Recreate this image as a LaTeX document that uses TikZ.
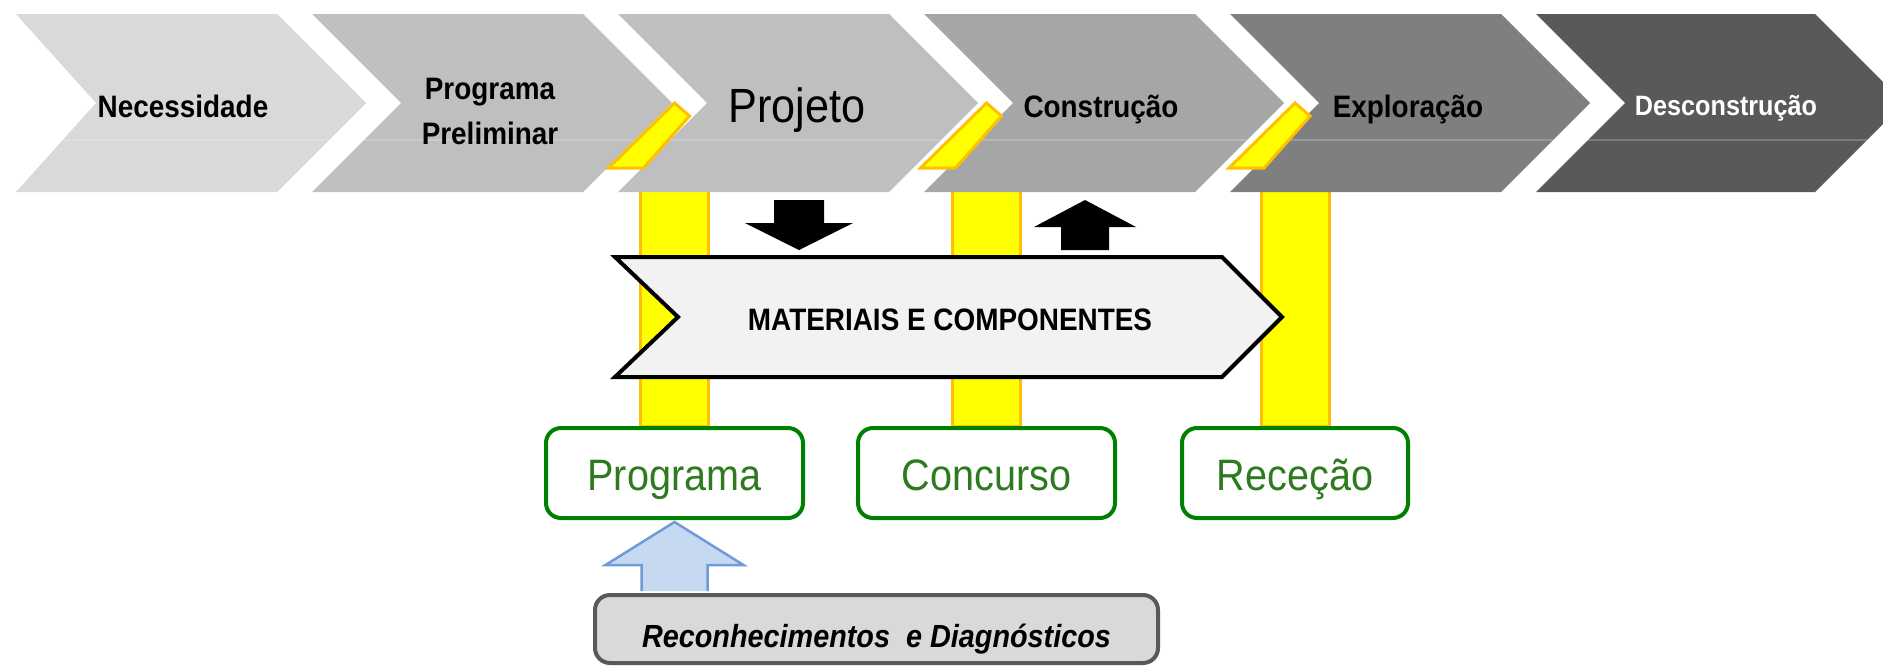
\documentclass[tikz,border=0pt]{standalone}
\usepackage{fontspec}
\setmainfont{Liberation Sans}
\newfontfamily\narrowsans[FakeStretch=0.9]{Liberation Sans}
\usetikzlibrary{calc}
\usetikzlibrary{backgrounds}
\definecolor{stage1}{HTML}{D9D9D9}
\definecolor{stage2}{HTML}{BFBFBF}
\definecolor{stage3}{HTML}{A6A6A6}
\definecolor{stage4}{HTML}{7F7F7F}
\definecolor{stage5}{HTML}{595959}
\definecolor{markfill}{HTML}{FFFF00}
\definecolor{markline}{HTML}{FFC000}
\definecolor{flowfill}{HTML}{F2F2F2}
\definecolor{gateline}{HTML}{008000}
\definecolor{gatetext}{HTML}{2D7A1F}
\definecolor{surveyfill}{HTML}{D9D9D9}
\definecolor{surveyline}{HTML}{595959}
\definecolor{pointerfill}{HTML}{C6D9F1}
\definecolor{pointerline}{HTML}{6F9BD8}
\tikzstyle{phase}=[inner sep=0pt, anchor=base, align=center,
  font=\narrowsans\bfseries\fontsize{31}{45}\selectfont]
\tikzstyle{sheen}=[white, opacity=0.2, line width=1.5pt]
\tikzstyle{milestone}=[fill=markfill, draw=markline, line width=3pt]
\tikzstyle{flow}=[fill=flowfill, draw=black, line width=4pt]
\tikzstyle{flowlabel}=[inner sep=0pt, anchor=base,
  font=\narrowsans\bfseries\fontsize{31}{36}\selectfont]
\tikzstyle{gate}=[draw=gateline, fill=white, line width=4pt, rounded corners=15pt,
  minimum width=257pt, minimum height=90pt, inner sep=0pt,
  text height=34pt, text depth=0pt, text=gatetext,
  font=\narrowsans\fontsize{44}{50}\selectfont]
\tikzstyle{survey}=[draw=surveyline, fill=surveyfill, line width=4pt, rounded corners=15pt,
  minimum width=563pt, minimum height=68pt, inner sep=0pt,
  text height=36pt, text depth=0pt,
  font=\narrowsans\bfseries\itshape\fontsize{32}{38}\selectfont]
\tikzstyle{pointer}=[fill=pointerfill, draw=pointerline, line width=2.5pt, line join=miter]

\begin{document}
\begin{tikzpicture}[x=1pt, y=-1pt]
  \useasboundingbox (0,0) rectangle (1883,667);
  \clip (0,0) rectangle (1883,667);
  % life cycle stages
  \fill[stage1] (16,14) -- (277,14) -- (366,103) -- (277,192) -- (16,192) -- (96,103) -- cycle;
  \draw[sheen] (63,140) -- (329,140);
  \foreach \l/\r/\c in {312/583/stage2, 618/889/stage2, 924/1195/stage3,
                        1230/1501/stage4, 1536/1815/stage5} {
    \fill[\c] (\l,14) -- (\r,14) -- ++(89,89) -- (\r,192) -- (\l,192) -- ++(89,-89) -- cycle;
    \draw[sheen] (\l+52,140) -- (\r+52,140);
  }
  \node[phase] (need) at (183,117) {Necessidade};
  \node[phase, anchor=center] (brief) at (490,111) {Programa\\Preliminar};
  \node[phase, font=\narrowsans\fontsize{48}{56}\selectfont] (design) at (797,122) {Projeto};
  \node[phase] (build) at (1101,117) {Construção};
  \node[phase] (use) at (1408,117) {Exploração};
  \node[phase, text=white, font=\narrowsans\bfseries\fontsize{28}{34}\selectfont]
    (demolish) at (1726,115) {Desconstrução};

  % gates
  \node[gate] (prog) at (674.5,473) {Programa};
  \node[gate] (contest) at (986.5,473) {Concurso};
  \node[gate, minimum width=226pt] (receipt) at (1295,473) {Receção};
  \foreach \g in {prog, contest, receipt}
    \filldraw[milestone] (\g.north |- 0,103) -- ++(15,13) -- ++(-46,52) -- ++(-35,0) -- cycle;
  \begin{scope}[on background layer]
    \foreach \g in {prog, contest, receipt}
      \filldraw[milestone] ($(\g.north)+(-34,0)$) rectangle ($(\g.north)+(34,-240)$);
  \end{scope}

  % materials
  \filldraw[flow] (615,257) -- (1222,257) -- (1282,317) -- (1222,377) -- (615,377) -- (678,317) -- cycle;
  \node[flowlabel] (mat) at (950,330) {MATERIAIS E COMPONENTES};
  \fill (774,200) -- (824,200) -- (824,223) -- (853,223) -- (799,250) -- (745,223) -- (774,223) -- cycle;
  \fill (1085,200) -- (1136,227) -- (1109,227) -- (1109,250) -- (1061,250) -- (1061,227) -- (1034,227) -- cycle;

  % surveys
  \node[survey] (diag) at (876.5,629) {Reconhecimentos\ \ e Diagnósticos};
  \coordinate (tip) at ($(prog.south)+(0,2)$);
  \filldraw[pointer] ($(tip |- diag.north)+(-33,-2)$) -- ($(tip)+(-33,43)$) -- ++(-36,0)
    -- (tip) -- ++(69,43) -- ++(-36,0) -- ($(tip |- diag.north)+(33,-2)$);
\end{tikzpicture}
\end{document}
